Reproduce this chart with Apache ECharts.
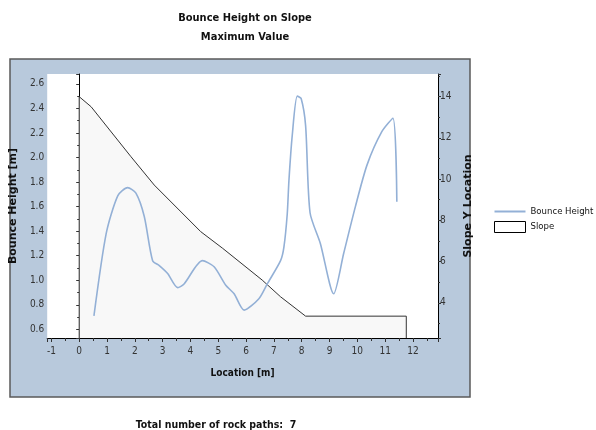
<!DOCTYPE html>
<html>
<head>
<meta charset="utf-8">
<script src="https://cdn.jsdelivr.net/npm/echarts@6/dist/echarts.min.js"></script>
<style>
html,body{margin:0;padding:0;background:#fff;}
#chart{width:596px;height:430px;}
</style>
</head>
<body>
<div id="chart"></div>
<script>
// ---- data ----
const titleLines = ['Bounce Height on Slope', 'Maximum Value'];
const footerText = 'Total number of rock paths:  7';
const seriesNames = ['Bounce Height', 'Slope'];

// Bounce height: location [m] and height [m]
const bounceX = [0.53, 0.97, 1.39, 1.74, 2.04, 2.34, 2.64, 2.88, 3.18, 3.54, 3.77, 4.43, 4.85, 5.27, 5.57, 5.93, 6.46, 6.76, 7.24, 7.36, 7.48, 7.54, 7.66, 7.84, 7.98, 8.14, 8.30, 8.67, 9.15, 9.51, 9.93, 10.35, 10.88, 11.28, 11.42];
const bounceY = [0.71, 1.38, 1.69, 1.755, 1.71, 1.52, 1.16, 1.12, 1.055, 0.94, 0.97, 1.16, 1.11, 0.96, 0.89, 0.757, 0.85, 0.97, 1.16, 1.27, 1.54, 1.81, 2.18, 2.50, 2.48, 2.26, 1.55, 1.30, 0.89, 1.22, 1.60, 1.94, 2.21, 2.32, 1.64];

// Slope profile: location [m] and slope Y location
const slopeX = [0, 0, 0.43, 1.86, 2.70, 4.37, 5.16, 6.58, 7.24, 8.14, 11.76, 11.76];
const slopeY = [2.29, 14.0, 13.51, 11.09, 9.71, 7.45, 6.64, 5.10, 4.29, 3.35, 3.35, 2.29];

// axis ranges
const xRange = [-1.15, 12.9];
const leftRange = [0.53, 2.68];
const rightRange = [2.29, 15.1];

const FONT = '"Liberation Sans Narrow", "DejaVu Sans Condensed", "Liberation Sans", sans-serif';
const bounceData = bounceX.map((x, i) => [x, bounceY[i]]);
const slopeData = slopeX.map((x, i) => [x, slopeY[i]]);
const BLUE = '#93b0d6';

function near(v, step) { const r = Math.round(v / step) * step; return Math.abs(v - r) < 1e-6; }

const chart = echarts.init(document.getElementById('chart'), null, {renderer: 'canvas'});
chart.setOption({
  animation: false,
  backgroundColor: '#ffffff',
  title: [
    {text: titleLines.join('\n'), left: 240, top: 4, textAlign: 'center',
     textStyle: {fontFamily: FONT, fontSize: 11, fontWeight: 'bold', color: '#111', lineHeight: 19}},
    {text: footerText, left: 211, top: 415, textAlign: 'center',
     textStyle: {fontFamily: FONT, fontSize: 10.5, fontWeight: 'bold', color: '#111'}}
  ],
  graphic: [{
    type: 'rect', z: -10, silent: true,
    shape: {x: 10, y: 59, width: 460, height: 338},
    style: {fill: '#b8c9dc', stroke: '#5a5a5a', lineWidth: 1.5}
  }],
  legend: {
    orient: 'vertical', left: 489, top: 201, itemWidth: 31, itemHeight: 11, itemGap: 4,
    textStyle: {fontFamily: FONT, fontSize: 9.5, color: '#111'},
    data: [
      {name: seriesNames[0], icon: 'path://M0,0L0,0M0,4.5L31,4.5L31,6.5L0,6.5ZM31,11L31,11',
       itemStyle: {color: BLUE, borderWidth: 0}},
      {name: seriesNames[1], icon: 'rect', itemStyle: {color: '#ffffff', borderColor: '#000', borderWidth: 1}}
    ]
  },
  grid: {left: 46, top: 74, right: 158, bottom: 92, show: true, backgroundColor: '#ffffff', borderWidth: 0},
  xAxis: {
    type: 'value', min: xRange[0], max: xRange[1], splitNumber: 14,
    name: 'Location [m]', nameLocation: 'middle', nameGap: 30,
    nameTextStyle: {fontFamily: FONT, fontSize: 10, fontWeight: 'bold', color: '#111'},
    axisLine: {onZero: false, lineStyle: {color: '#000', width: 1}},
    axisTick: {show: true, length: 4, lineStyle: {color: '#333'}},
    minorTick: {show: true, splitNumber: 2, length: 3, lineStyle: {color: '#333'}},
    splitLine: {show: false},
    axisLabel: {fontFamily: FONT, fontSize: 10, color: '#333', margin: 8,
      formatter: v => near(v, 1) ? String(Math.round(v)) : ''}
  },
  yAxis: [
    {
      type: 'value', min: leftRange[0], max: leftRange[1], splitNumber: 10, position: 'left',
      name: 'Bounce Height [m]', nameLocation: 'middle', nameGap: 18, nameRotate: 90,
      nameTextStyle: {fontFamily: '"DejaVu Sans", sans-serif', fontSize: 11, fontWeight: 'bold', color: '#111'},
      axisLine: {show: true, lineStyle: {color: '#000', width: 1}},
      axisTick: {show: true, length: 3, lineStyle: {color: '#333'}},
      minorTick: {show: true, splitNumber: 2, length: 2, lineStyle: {color: '#333'}},
      splitLine: {show: false},
      axisLabel: {fontFamily: FONT, fontSize: 10, color: '#333', margin: 3,
        formatter: v => near(v, 0.2) ? v.toFixed(1) : ''}
    },
    {
      type: 'value', min: rightRange[0], max: rightRange[1], splitNumber: 6, position: 'right',
      name: 'Slope Y Location', nameLocation: 'middle', nameGap: 12, nameRotate: 90,
      nameTextStyle: {fontFamily: '"DejaVu Sans", sans-serif', fontSize: 11, fontWeight: 'bold', color: '#111'},
      axisLine: {show: true, lineStyle: {color: '#000', width: 1}},
      axisTick: {show: true, length: 3, lineStyle: {color: '#333'}},
      minorTick: {show: true, splitNumber: 2, length: 2, lineStyle: {color: '#333'}},
      splitLine: {show: false},
      axisLabel: {fontFamily: FONT, fontSize: 10, color: '#333', margin: 2,
        formatter: v => near(v, 2) ? String(Math.round(v)) : ''}
    }
  ],
  series: [
    {
      name: seriesNames[0], type: 'line', yAxisIndex: 0, data: bounceData,
      symbol: 'none', smooth: 0.25, z: 5,
      lineStyle: {color: BLUE, width: 1.6},
      itemStyle: {color: BLUE}
    },
    {
      name: seriesNames[1], type: 'line', yAxisIndex: 1, data: slopeData,
      symbol: 'none', z: 2,
      lineStyle: {color: '#333', width: 1},
      itemStyle: {color: '#ffffff', borderColor: '#000'},
      areaStyle: {color: '#f8f8f8', origin: 'start', opacity: 1}
    }
  ]
});
</script>
</body>
</html>
